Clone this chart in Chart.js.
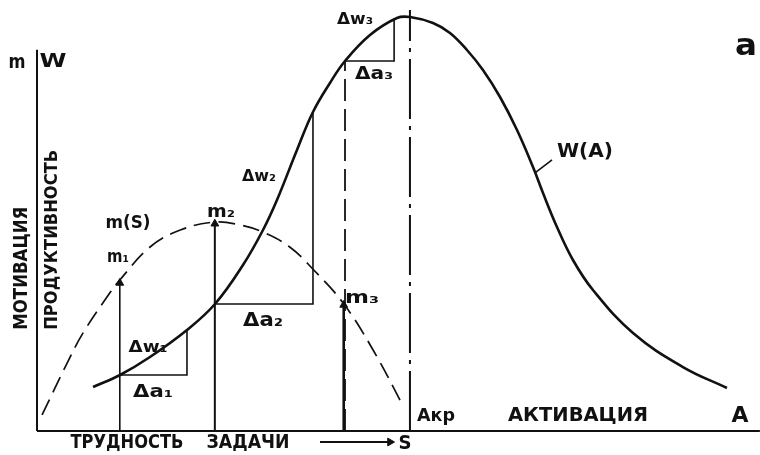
<!DOCTYPE html>
<html><head><meta charset="utf-8">
<script src="https://cdn.jsdelivr.net/npm/chart.js@4"></script>
<style>html,body{margin:0;padding:0;background:#fff}canvas{display:block}</style>
</head><body>
<canvas id="c" width="760" height="455"></canvas>
<script>
// ---- data (abstract units) ----
const wA_x = [7.78, 11.53, 15.69, 20.83, 24.72, 28.61, 31.39, 33.33, 36.11, 38.33, 40.69, 42.78, 46.25, 50.0, 51.81, 55.0, 57.36, 59.72, 61.94, 64.31, 66.67, 68.89, 70.28, 72.22, 74.44, 77.22, 82.78, 89.72, 95.83];
const wA_y = [10.40, 13.24, 17.49, 23.88, 30.02, 39.24, 47.52, 54.61, 66.43, 75.41, 82.27, 87.47, 93.62, 97.64, 97.87, 96.45, 94.09, 90.07, 85.34, 78.96, 71.16, 62.41, 56.26, 48.23, 40.43, 33.33, 23.17, 15.13, 10.17];
const mS_x = [0.7, 4.2, 6.4, 10.1, 11.5, 15.7, 19.9, 24.7, 28.2, 31.4, 35.1, 38.3, 42.5, 46.7, 50.8];
const mS_y = [3.8, 16.1, 23.2, 32.6, 35.7, 43.5, 47.5, 49.4, 48.7, 47.0, 43.5, 38.3, 30.3, 19.1, 6.1];
const motivX = [11.5, 24.7, 42.6];      // m1, m2, m3 positions on S
const motivY = [35.0, 49.0, 29.8];      // m1, m2, m3 values
const triX0 = [11.53, 24.72, 42.78];    // start of Δa
const triX1 = [20.83, 38.33, 49.6];     // end of Δa
const triY0 = [13.24, 30.02, 87.47];    // level of Δa
const triY1 = [23.88, 75.41, 97.6];     // top of Δw
const aKr = 51.8;                       // critical activation
const yAxisTop = 90.1;
const xAxisEnd = 100.4;

// ---- texts ----
const texts = ['m','W','МОТИВАЦИЯ','ПРОДУКТИВНОСТЬ','m(S)','m₁','m₂','m₃','Δw₁','Δa₁','Δw₂','Δa₂','Δw₃','Δa₃','W(A)','a','Aкр','АКТИВАЦИЯ','A','S','ТРУДНОСТЬ','ЗАДАЧИ'];
// placement: [x, y, fontSize, targetWidth, rotation]
const place = [
  [-2.78, 87.0, 20, 17, 0],
  [2.22, 87.2, 19, 27, 0],
  [-2.08, 38.5, 20, 123, -Math.PI/2],
  [2.08, 45.2, 18, 180, -Math.PI/2],
  [12.64, 49.2, 18, 45, 0],
  [11.25, 40.9, 17, 22, 0],
  [25.56, 51.6, 17, 28, 0],
  [45.14, 31.4, 17, 34, 0],
  [15.42, 19.6, 15, 39, 0],
  [16.11, 9.0, 17, 40, 0],
  [30.83, 60.0, 15, 34, 0],
  [31.39, 26.0, 19, 40, 0],
  [44.17, 97.2, 15, 36, 0],
  [46.81, 84.2, 17, 38, 0],
  [76.11, 66.0, 20, 56, 0],
  [98.47, 90.8, 30, 22, 0],
  [55.42, 3.5, 18, 38, 0],
  [75.14, 3.5, 20, 140, 0],
  [97.64, 3.5, 21, 17, 0],
  [51.11, -3.1, 19, 13, 0],
  [12.5, -2.8, 19, 113, 0],
  [29.31, -2.8, 19, 83, 0]
];

const pts = (xs, ys) => xs.map((v, i) => ({x: v, y: ys[i]}));
const K = '#111';
const line = (data, extra) => Object.assign({data, showLine: true, borderColor: K, backgroundColor: K, borderWidth: 1.6, pointRadius: 0, clip: false}, extra || {});

const datasets = [
  line(pts([0, 0], [0, yAxisTop]), {borderWidth: 2}),
  line(pts([0, xAxisEnd], [0, 0]), {borderWidth: 2}),
  line(pts(wA_x, wA_y), {borderWidth: 2.6, tension: 0.4}),
  line(pts(mS_x, mS_y), {borderWidth: 1.7, borderDash: [17, 8], tension: 0.4}),
  line(pts([aKr, aKr], [0, 99.5]), {borderWidth: 2, borderDash: [60, 7, 4, 7]}),
  line(pts([triX0[2], triX0[2]], [0, triY0[2]]), {borderWidth: 1.8, borderDash: [22, 8]})
];
for (let i = 0; i < 3; i++) {
  datasets.push(line(pts([triX0[i], triX1[i], triX1[i]], [triY0[i], triY0[i], triY1[i]]), {borderWidth: 1.6}));
}
const aw = [1.6, 2, 2.6];
for (let i = 0; i < 3; i++) {
  datasets.push(line(pts([motivX[i], motivX[i]], [0, motivY[i]]), {borderWidth: aw[i], pointStyle: 'triangle', pointRadius: [0, 4.5], pointBorderWidth: 1}));
}
// leader line for W(A) label
datasets.push(line(pts([69.17, 71.53], [61.0, 64.1]), {borderWidth: 1.6}));
// arrow under S axis
datasets.push(line(pts([39.31, 49.03], [-2.6, -2.6]), {borderWidth: 2, pointStyle: 'triangle', pointRotation: 90, pointRadius: [0, 4.5], pointBorderWidth: 1}));

const textPlugin = {
  id: 'txt',
  afterDatasetsDraw(chart) {
    const {ctx, scales: {x, y}} = chart;
    ctx.save();
    ctx.fillStyle = K;
    ctx.textAlign = 'center';
    ctx.textBaseline = 'middle';
    texts.forEach((t, i) => {
      const [lx, ly, sz, w, rot] = place[i];
      ctx.save();
      ctx.translate(x.getPixelForValue(lx), y.getPixelForValue(ly));
      if (rot) ctx.rotate(rot);
      ctx.font = 'bold ' + sz + 'px "DejaVu Sans"';
      const m = ctx.measureText(t).width;
      ctx.scale(w / m, 1);
      ctx.fillText(t, 0, 0);
      ctx.restore();
    });
    ctx.restore();
  }
};
const bg = {
  id: 'bg',
  beforeDraw(chart) { const c = chart.ctx; c.save(); c.fillStyle = '#fff'; c.fillRect(0, 0, chart.width, chart.height); c.restore(); }
};

new Chart(document.getElementById('c'), {
  type: 'scatter',
  data: {datasets},
  options: {
    responsive: false,
    animation: false,
    events: [],
    layout: {padding: 0, autoPadding: false},
    plugins: {legend: {display: false}, tooltip: {enabled: false}},
    scales: {
      x: {type: 'linear', min: -5.14, max: 100.42, display: false},
      y: {type: 'linear', min: -5.67, max: 101.89, display: false}
    }
  },
  plugins: [bg, textPlugin]
});
</script>
</body></html>
